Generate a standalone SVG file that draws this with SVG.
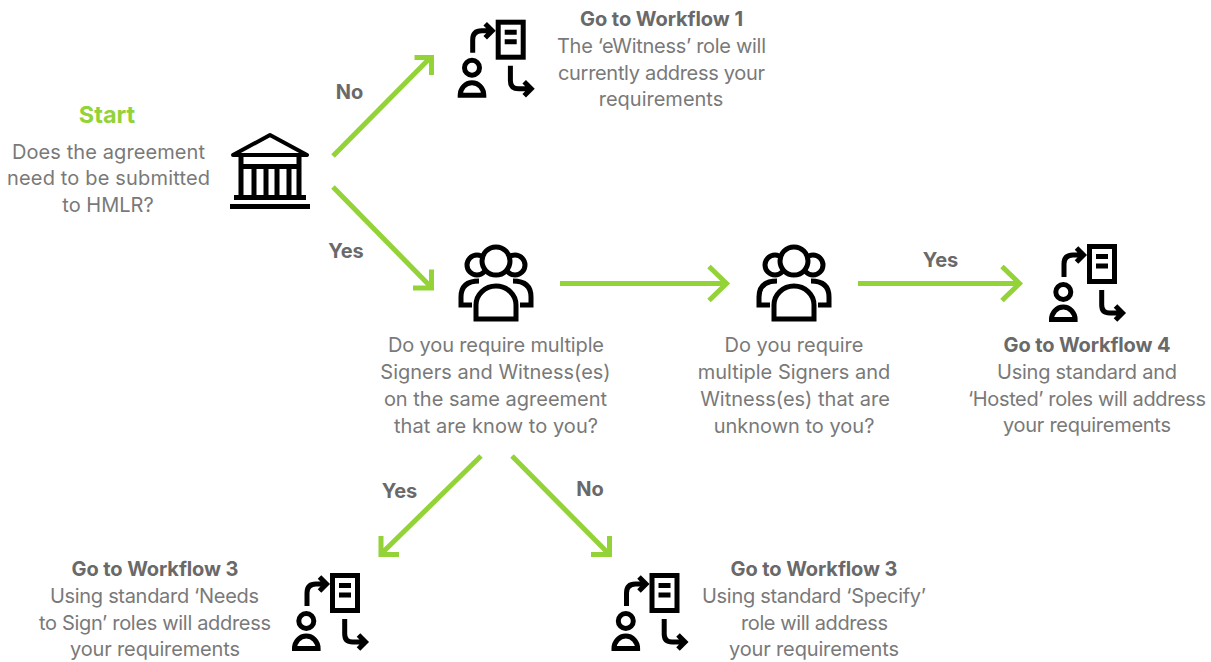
<svg xmlns="http://www.w3.org/2000/svg" xmlns:xlink="http://www.w3.org/1999/xlink" width="1211" height="662" viewBox="0 0 1211 662">
<style>
text{font-family:"Inter","Noto Sans","Liberation Sans",sans-serif;font-size:20px;fill:#797979;text-anchor:middle}
.b{font-weight:700;fill:#696969}
.s{font-weight:700;fill:#93d337;font-size:23.500px}
.ln{fill:none;stroke:#93d337;stroke-width:5}
.k{fill:none;stroke:#000;stroke-width:5}
</style>
<defs>
<g id="wf">
<rect class="k" x="1089.500" y="246.500" width="25" height="35"/>
<path d="M1096 256.500h12M1096 266h12" class="k"/>
<path class="k" d="M1064 277V264q0-9 9-9h10M1076.500 248l7 7-7 7"/>
<circle class="k" cx="1063.300" cy="292" r="7.500"/>
<path class="k" d="M1051.500 319.500a11.800 12.500 0 0 1 23.600 0z"/>
<path class="k" d="M1101.700 290v15q0 8 8 8h13M1115.500 306l7 7-7 7"/>
</g>
<g id="ppl">
<circle class="k" cx="477" cy="265" r="10"/>
<circle class="k" cx="515" cy="265" r="10"/>
<circle class="k" cx="496" cy="261" r="14" style="fill:#fff"/>
<path class="k" d="M472 305H461V297q0-16 18-16M520 305H531V297q0-16-18-16"/>
<path class="k" style="fill:#fff" d="M476 319V305a20 19 0 0 1 40 0V319z"/>
</g>
</defs>
<g id="connectors">
<path class="ln" d="M333 156L431 57M414.500 57.500H431.500V75"/>
<path class="ln" d="M333 187L431 287M431.500 269.500V288H413"/>
<path class="ln" d="M560 283.500H726M709 266.500L726.500 283.500L709 300.500"/>
<path class="ln" d="M858 283.500H1019M1002 266.500L1019.500 283.500L1002 300.500"/>
<path class="ln" d="M481 456L381 554M381 536V554.500H399"/>
<path class="ln" d="M512 456L609 554M609.500 536V554.500H591"/>
</g>
<g id="start">
<text class="s" x="107" y="123">Start</text>
<text x="108.500" y="159" textLength="193">Does the agreement</text>
<text x="108.500" y="185" textLength="203">need to be submitted</text>
<text x="108" y="212">to HMLR?</text>
</g>
<g id="bank">
<path d="M233 155L270 135L307 155Z" fill="none" stroke="#000" stroke-width="4" stroke-linejoin="round"/>
<path d="M241 157V197M299 157V197" stroke="#000" stroke-width="5" fill="none"/>
<path d="M240 166.500H300" stroke="#000" stroke-width="5"/>
<path d="M254 167V197M266 167V197M277 167V197M289 167V197" stroke="#000" stroke-width="5" fill="none"/>
<path d="M234 197.500H306" stroke="#000" stroke-width="5"/>
<rect x="230" y="204" width="80" height="5"/>
</g>
<g id="label-no1"><text class="b" x="349.500" y="99">No</text></g>
<g id="label-yes1"><text class="b" x="346" y="258">Yes</text></g>
<g id="label-yes2"><text class="b" x="940.500" y="267">Yes</text></g>
<g id="label-yes3"><text class="b" x="399.500" y="498">Yes</text></g>
<g id="label-no2"><text class="b" x="590" y="496">No</text></g>
<g id="workflow1">
<use xlink:href="#wf" href="#wf" transform="translate(-591.300 -224.300)"/>
<text class="b" x="661.500" y="26" textLength="163">Go to Workflow 1</text>
<text x="661.500" y="53" textLength="209">The ‘eWitness’ role will</text>
<text x="661.500" y="80" textLength="207">currently address your</text>
<text x="661" y="106">requirements</text>
</g>
<g id="q1">
<use xlink:href="#ppl" href="#ppl"/>
<text x="496" y="352" textLength="216">Do you require multiple</text>
<text x="495.500" y="379">Signers and Witness(es)</text>
<text x="495.500" y="406">on the same agreement</text>
<text x="496" y="433" textLength="204">that are know to you?</text>
</g>
<g id="q2">
<use xlink:href="#ppl" href="#ppl" transform="translate(298 0)"/>
<text x="794" y="352">Do you require</text>
<text x="794" y="379">multiple Signers and</text>
<text x="795" y="406">Witness(es) that are</text>
<text x="794" y="433">unknown to you?</text>
</g>
<g id="workflow4">
<use xlink:href="#wf" href="#wf"/>
<text class="b" x="1087" y="352" textLength="167">Go to Workflow 4</text>
<text x="1087" y="379" textLength="180">Using standard and</text>
<text x="1087" y="406" textLength="238">‘Hosted’ roles will address</text>
<text x="1087" y="432" textLength="168">your requirements</text>
</g>
<g id="workflow3a">
<use xlink:href="#wf" href="#wf" transform="translate(-757 329)"/>
<text class="b" x="155" y="576" textLength="167">Go to Workflow 3</text>
<text x="154.500" y="603" textLength="209">Using standard ‘Needs</text>
<text x="155" y="630" textLength="232">to Sign’ roles will address</text>
<text x="155" y="656" textLength="170">your requirements</text>
</g>
<g id="workflow3b">
<use xlink:href="#wf" href="#wf" transform="translate(-437.500 329)"/>
<text class="b" x="814" y="576" textLength="167">Go to Workflow 3</text>
<text x="814" y="603" textLength="224">Using standard ‘Specify’</text>
<text x="814.500" y="630" textLength="147">role will address</text>
<text x="814" y="656" textLength="170">your requirements</text>
</g>
</svg>
